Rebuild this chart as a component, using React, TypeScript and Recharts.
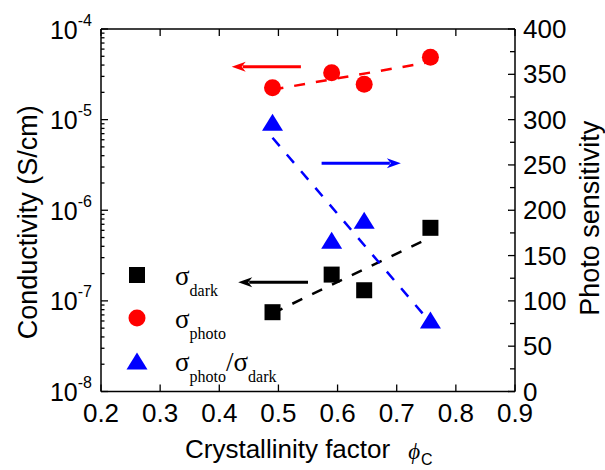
import React from 'react';
import {
  ComposedChart,
  Scatter,
  XAxis,
  YAxis,
  ReferenceLine,
  Legend,
  Label
} from 'recharts';

// crystallinity factor of the four samples
const crystallinity = [0.49, 0.59, 0.645, 0.757];
// conductivities in S/cm (left, log axis)
const sigmaDark = [7.5e-8, 1.95e-7, 1.31e-7, 6.4e-7];
const sigmaPhoto = [2.25e-5, 3.29e-5, 2.45e-5, 4.87e-5];
// photo sensitivity sigma_photo / sigma_dark (right axis)
const photoSensitivity = [297, 167, 189, 79];

// dashed guide lines: [start, end] as [phi, value]
const darkTrend = [[0.49, 7.3e-8], [0.757, 5.0e-7]];
const photoTrend = [[0.49, 2.14e-5], [0.757, 4.32e-5]];
const ratioTrend = [[0.49, 280], [0.757, 76]];

// axis arrows: [tail, tip]
const photoArrow = [[0.538, 3.83e-5], [0.421, 3.83e-5]];
const ratioArrow = [[0.573, 252], [0.707, 252]];
const darkArrow = [[0.55, 1.61e-7], [0.432, 1.61e-7]];

const xTicks = [0.2, 0.3, 0.4, 0.5, 0.6, 0.7, 0.8, 0.9];
const decades = [-8, -7, -6, -5];
const rightTicks = [0, 25, 50, 75, 100, 125, 150, 175, 200, 225, 250, 275, 300, 325, 350, 375, 400];
const rightLabels = [0, 50, 100, 150, 200, 250, 300, 350, 400];

const leftTicks: number[] = [];
decades.forEach(n => {
  [1, 2, 3, 4, 5, 6, 7, 8, 9].forEach(k => leftTicks.push(k * Math.pow(10, n)));
});
leftTicks.push(1e-4);

const SANS = "'Liberation Sans', Arial, Helvetica, sans-serif";
const SERIF = "'Liberation Serif', 'Times New Roman', serif";
const AXIS = { stroke: '#000', strokeWidth: 1.5 };

const pts = (ys: number[]) => crystallinity.map((x, i) => ({ x, y: ys[i] }));
const seg = (s: number[][]) => s.map(([x, y]) => ({ x, y }));

const LeftTick = (props: any) => {
  const { x, y, payload } = props;
  const lg = Math.log10(payload.value);
  const major = Math.abs(lg - Math.round(lg)) < 1e-6;
  return (
    <g>
      <line x1={x} y1={y} x2={x + (major ? 7 : 3.5)} y2={y} stroke="#000" strokeWidth={1.3} />
      {major && (
        <text x={x - 9} y={y + 9.5} textAnchor="end" fontFamily={SANS} fontSize={25} fill="#000">
          10<tspan fontSize={16} dy={-13}>{Math.round(lg)}</tspan>
        </text>
      )}
    </g>
  );
};

const RightTick = (props: any) => {
  const { x, y, payload } = props;
  const major = rightLabels.includes(payload.value);
  return (
    <g>
      <line x1={x} y1={y} x2={x - (major ? 7 : 5)} y2={y} stroke="#000" strokeWidth={1.3} />
      {major && (
        <text x={x + 8} y={y + 9} textAnchor="start" fontFamily={SANS} fontSize={26} fill="#000">
          {payload.value}
        </text>
      )}
    </g>
  );
};

const BottomTick = (props: any) => {
  const { x, y, payload } = props;
  return (
    <g>
      <line x1={x} y1={y} x2={x} y2={y - 7} stroke="#000" strokeWidth={1.3} />
      <text x={x} y={y + 30} textAnchor="middle" fontFamily={SANS} fontSize={26} fill="#000">
        {payload.value.toFixed(1)}
      </text>
    </g>
  );
};

const TopTick = (props: any) => {
  const { x, y } = props;
  return <line x1={x} y1={y} x2={x} y2={y + 7} stroke="#000" strokeWidth={1.3} />;
};

const LeftTitle = (props: any) => {
  const vb = props.viewBox;
  const cx = vb.x + vb.width - 64;
  const cy = vb.y + vb.height / 2 + 12;
  return (
    <text x={cx} y={cy} transform={`rotate(-90, ${cx}, ${cy})`} textAnchor="middle"
      fontFamily={SANS} fontSize={27} fill="#000">
      Conductivity (S/cm)
    </text>
  );
};

const RightTitle = (props: any) => {
  const vb = props.viewBox;
  const cx = vb.x + 84;
  const cy = vb.y + vb.height / 2 + 8;
  return (
    <text x={cx} y={cy} transform={`rotate(-90, ${cx}, ${cy})`} textAnchor="middle"
      fontFamily={SANS} fontSize={27} fill="#000">
      Photo sensitivity
    </text>
  );
};

const XTitle = (props: any) => {
  const vb = props.viewBox;
  return (
    <text x={vb.x + 84} y={vb.y + 66} textAnchor="start" fontFamily={SANS} fontSize={26} fill="#000">
      Crystallinity factor
      <tspan dx={18} dy={1} fontFamily={SERIF} fontStyle="italic" fontSize={23}>ϕ</tspan>
      <tspan dx={1} dy={6} fontSize={16}>C</tspan>
    </text>
  );
};

const Arrow = (p: any) => {
  const { x1, y1, x2, y2, stroke } = p;
  const dx = x2 - x1;
  const dy = y2 - y1;
  const len = Math.hypot(dx, dy) || 1;
  const ux = dx / len;
  const uy = dy / len;
  const head = 14;
  const half = 5;
  const bx = x2 - ux * head;
  const by = y2 - uy * head;
  return (
    <g>
      <line x1={x1} y1={y1} x2={bx + ux * 3} y2={by + uy * 3} stroke={stroke} strokeWidth={3} />
      <polygon
        points={`${x2},${y2} ${bx - uy * half},${by + ux * half} ${bx + ux * 4},${by + uy * 4} ${bx + uy * half},${by - ux * half}`}
        fill={stroke}
      />
    </g>
  );
};

const Square = (p: any) => <rect x={p.cx - 8} y={p.cy - 8} width={16} height={16} fill="#000" />;
const Dot = (p: any) => <circle cx={p.cx} cy={p.cy} r={8.5} fill="#ff0000" />;
const Tri = (p: any) => (
  <polygon points={`${p.cx},${p.cy - 8.5} ${p.cx + 10.5},${p.cy + 8.5} ${p.cx - 10.5},${p.cy + 8.5}`} fill="#0000ff" />
);

const LegendBox = () => (
  <svg width={240} height={130} style={{ overflow: 'visible', display: 'block' }}>
    <rect x={9} y={7} width={16} height={16} fill="#000" />
    <circle cx={17} cy={58} r={8.5} fill="#ff0000" />
    <polygon points="17,92.5 27.5,109.5 6.5,109.5" fill="#0000ff" />
    <text x={55} y={25} fontFamily={SERIF} fontSize={27} fill="#000">
      σ<tspan dy={11} fontSize={16}>dark</tspan>
    </text>
    <text x={55} y={68} fontFamily={SERIF} fontSize={27} fill="#000">
      σ<tspan dy={11} fontSize={16}>photo</tspan>
    </text>
    <text x={55} y={111} fontFamily={SERIF} fontSize={27} fill="#000">
      σ<tspan dy={11} fontSize={16}>photo</tspan>
      <tspan dy={-11}>/σ</tspan>
      <tspan dy={11} fontSize={16}>dark</tspan>
    </text>
  </svg>
);

export default function App() {
  return (
    <div style={{ position: 'absolute', left: 0, top: 0, background: '#fff' }}>
      <ComposedChart width={605} height={470} margin={{ top: 19, right: 40, bottom: 38.5, left: 41 }}>
        <XAxis xAxisId="b" dataKey="x" type="number" domain={[0.2, 0.9]} ticks={xTicks}
          interval={0} height={40} tickSize={0} tickMargin={0} tickLine={false}
          axisLine={AXIS} tick={<BottomTick />} allowDataOverflow>
          <Label content={<XTitle />} />
        </XAxis>
        <XAxis xAxisId="t" orientation="top" dataKey="x" type="number" domain={[0.2, 0.9]}
          ticks={xTicks} interval={0} height={10} tickSize={0} tickMargin={0} tickLine={false}
          axisLine={AXIS} tick={<TopTick />} allowDataOverflow />
        <YAxis yAxisId="l" dataKey="y" type="number" scale="log" domain={[1e-8, 1e-4]}
          ticks={leftTicks} interval={0} width={60} tickSize={0} tickMargin={0} tickLine={false}
          axisLine={AXIS} tick={<LeftTick />} allowDataOverflow>
          <Label content={<LeftTitle />} />
        </YAxis>
        <YAxis yAxisId="r" orientation="right" dataKey="y" type="number" domain={[0, 400]}
          ticks={rightTicks} interval={0} width={50} tickSize={0} tickMargin={0} tickLine={false}
          axisLine={AXIS} tick={<RightTick />} allowDataOverflow>
          <Label content={<RightTitle />} />
        </YAxis>

        <ReferenceLine xAxisId="b" yAxisId="l" segment={seg(darkTrend)} stroke="#000"
          strokeWidth={2.5} strokeDasharray="11 11" ifOverflow="visible" />
        <ReferenceLine xAxisId="b" yAxisId="l" segment={seg(photoTrend)} stroke="#ff0000"
          strokeWidth={2.5} strokeDasharray="11 11" ifOverflow="visible" />
        <ReferenceLine xAxisId="b" yAxisId="r" segment={seg(ratioTrend)} stroke="#0000ff"
          strokeWidth={2.5} strokeDasharray="11 11" ifOverflow="visible" />

        <ReferenceLine xAxisId="b" yAxisId="l" segment={seg(photoArrow)} stroke="#ff0000"
          shape={<Arrow />} ifOverflow="visible" />
        <ReferenceLine xAxisId="b" yAxisId="r" segment={seg(ratioArrow)} stroke="#0000ff"
          shape={<Arrow />} ifOverflow="visible" />
        <ReferenceLine xAxisId="b" yAxisId="l" segment={seg(darkArrow)} stroke="#000"
          shape={<Arrow />} ifOverflow="visible" />

        <Scatter name="dark" data={pts(sigmaDark)} xAxisId="b" yAxisId="l" dataKey="y"
          shape={Square} isAnimationActive={false} />
        <Scatter name="photo" data={pts(sigmaPhoto)} xAxisId="b" yAxisId="l" dataKey="y"
          shape={Dot} isAnimationActive={false} />
        <Scatter name="ratio" data={pts(photoSensitivity)} xAxisId="b" yAxisId="r" dataKey="y"
          shape={Tri} isAnimationActive={false} />

        <Legend layout="horizontal" verticalAlign="middle" align="center"
          content={<LegendBox />}
          wrapperStyle={{ position: 'absolute', left: 120, top: 260, width: 240, height: 130 }} />
      </ComposedChart>
    </div>
  );
}
